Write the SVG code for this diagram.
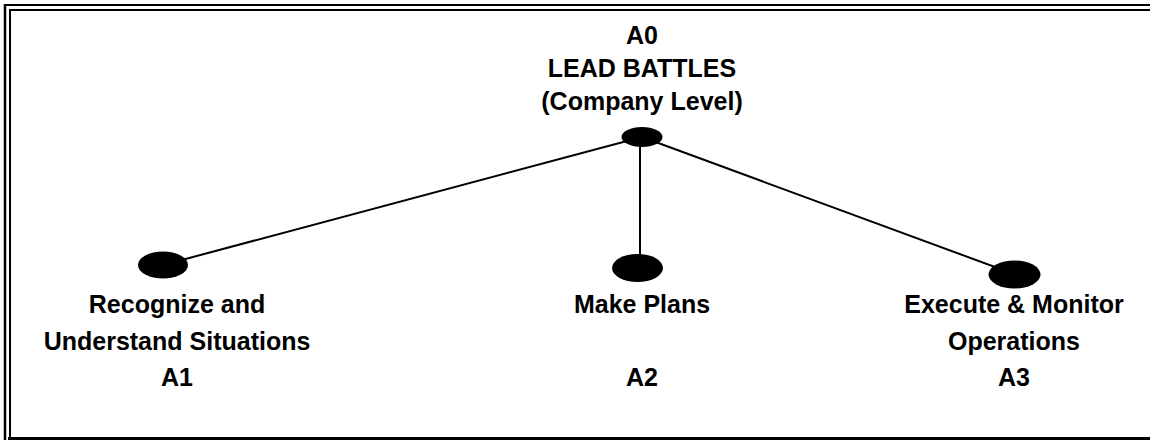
<svg xmlns="http://www.w3.org/2000/svg" width="1150" height="440" viewBox="0 0 1150 440">
  <style>
    .lbl { font-family: "Liberation Sans", Arial, Helvetica, sans-serif; font-weight: bold; font-size: 25px; fill: #000; text-anchor: middle; }
    .node { fill: #000; }
    .edge { stroke: #000; stroke-width: 2; fill: none; }
    .frame { stroke: #000; fill: none; }
  </style>
  <rect width="1150" height="440" fill="#fff"/>
  <g id="frame">
    <line class="frame" x1="5" y1="5" x2="1150" y2="5" stroke-width="2"/>
    <line class="frame" x1="10" y1="10" x2="1150" y2="10" stroke-width="2"/>
    <line class="frame" x1="5" y1="4" x2="5" y2="440" stroke-width="2.5"/>
    <line class="frame" x1="10" y1="9" x2="10" y2="438" stroke-width="2"/>
    <line class="frame" x1="8" y1="438.5" x2="1150" y2="438.5" stroke-width="3"/>
  </g>
  <g id="connectors">
    <line class="edge" x1="642" y1="137" x2="163" y2="265"/>
    <line class="edge" x1="640" y1="140" x2="640" y2="265"/>
    <line class="edge" x1="642" y1="137" x2="1014" y2="274"/>
  </g>
  <g id="A0">
    <ellipse class="node" cx="642" cy="137" rx="20.5" ry="10"/>
    <text class="lbl" x="642" y="44">A0</text>
    <text class="lbl" x="642" y="77">LEAD BATTLES</text>
    <text class="lbl" x="642" y="110">(Company Level)</text>
  </g>
  <g id="A1">
    <ellipse class="node" cx="163" cy="265" rx="25" ry="13.5"/>
    <text class="lbl" x="177" y="313">Recognize and</text>
    <text class="lbl" x="177" y="350">Understand Situations</text>
    <text class="lbl" x="177" y="386">A1</text>
  </g>
  <g id="A2">
    <ellipse class="node" cx="637.5" cy="268" rx="25.5" ry="14"/>
    <text class="lbl" x="642" y="313">Make Plans</text>
    <text class="lbl" x="642" y="386">A2</text>
  </g>
  <g id="A3">
    <ellipse class="node" cx="1014.5" cy="274.5" rx="26" ry="14"/>
    <text class="lbl" x="1014" y="313">Execute &amp; Monitor</text>
    <text class="lbl" x="1014" y="350">Operations</text>
    <text class="lbl" x="1014" y="386">A3</text>
  </g>
</svg>
